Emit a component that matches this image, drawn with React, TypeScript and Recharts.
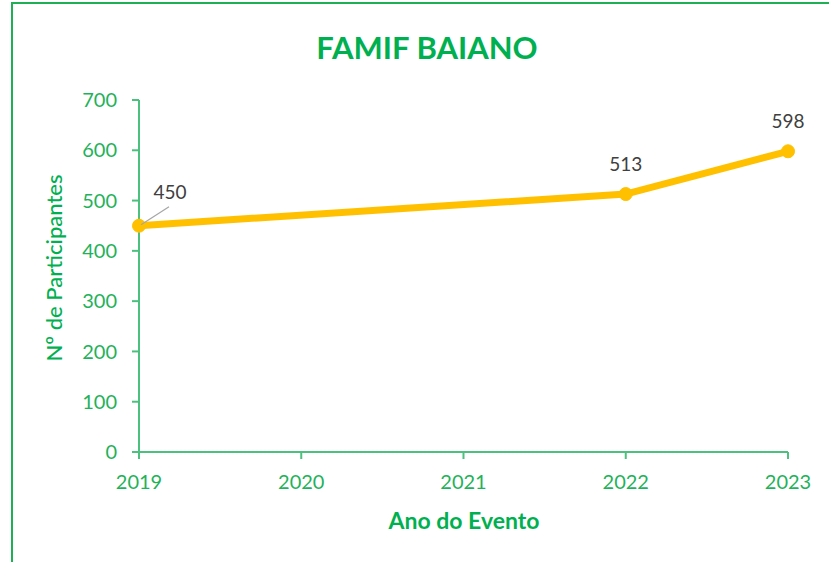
import React from "react";
import { LineChart, Line, XAxis, YAxis, LabelList } from "recharts";

const years = ["2019", "2020", "2021", "2022", "2023"];
const participants: (number | null)[] = [450, null, null, 513, 598];
const yTicks = [0, 100, 200, 300, 400, 500, 600, 700];

const data = years.map((ano, i) => ({ ano, valor: participants[i] }));

const FONT = "Lato, 'Open Sans', sans-serif";
const GREEN = "#00B050";
const TICK_GREEN = "#1FB25A";
const AXIS_GREEN = "#4CC17F";
const GOLD = "#FFC000";

// Excel-style data label; the first one was dragged aside and gets a leader line
function PointLabel(props: any) {
  const { x, y, value, index } = props;
  if (value == null || x == null || y == null) return null;
  if (index === 0) {
    return (
      <g>
        <line x1={x + 2} y1={y - 1} x2={x + 30} y2={y - 19} stroke="#A6A6A6" strokeWidth={1.2} />
        <text x={x + 31} y={y - 34} textAnchor="middle" dominantBaseline="central" fill="#404040" fontSize={19} fontFamily={FONT}>
          {value}
        </text>
      </g>
    );
  }
  return (
    <text x={x} y={y - 31} textAnchor="middle" dominantBaseline="central" fill="#404040" fontSize={19} fontFamily={FONT}>
      {value}
    </text>
  );
}

export default function App() {
  return (
    <div style={{ position: "fixed", left: 0, top: 0, width: 829, height: 562, overflow: "hidden", background: "#fff" }}>
      <div
        style={{
          position: "absolute",
          left: 11,
          top: 2,
          width: 840,
          height: 600,
          border: "2px solid #1FAF55",
          boxSizing: "border-box",
        }}
      />
      <div
        style={{
          position: "absolute",
          left: 0,
          width: 854,
          top: 28,
          textAlign: "center",
          fontFamily: FONT,
          fontWeight: 700,
          fontSize: 31,
          color: GREEN,
        }}
      >
        FAMIF BAIANO
      </div>
      <div
        style={{
          position: "absolute",
          left: 53,
          top: 268,
          transform: "translate(-50%, -50%) rotate(-90deg)",
          whiteSpace: "nowrap",
          fontFamily: FONT,
          fontSize: 22,
          fontWeight: 500,
          color: GREEN,
        }}
      >
        Nº de Participantes
      </div>
      <div
        style={{
          position: "absolute",
          left: 464,
          top: 520,
          transform: "translate(-50%, -50%)",
          whiteSpace: "nowrap",
          fontFamily: FONT,
          fontSize: 23,
          fontWeight: 700,
          color: GREEN,
        }}
      >
        Ano do Evento
      </div>
      <div style={{ position: "absolute", left: 0, top: 0 }}>
        <LineChart width={829} height={562} data={data} margin={{ top: 100, right: 41, bottom: 70, left: 79 }}>
          <XAxis
            dataKey="ano"
            height={40}
            tick={{ fontSize: 20, fill: TICK_GREEN, fontFamily: FONT }}
            tickSize={7}
            tickMargin={16}
            axisLine={{ stroke: AXIS_GREEN, strokeWidth: 2 }}
            tickLine={{ stroke: AXIS_GREEN, strokeWidth: 2 }}
            interval={0}
          />
          <YAxis
            width={60}
            domain={[0, 700]}
            ticks={yTicks}
            tick={{ fontSize: 20, fill: TICK_GREEN, fontFamily: FONT }}
            tickSize={7}
            tickMargin={15}
            axisLine={{ stroke: AXIS_GREEN, strokeWidth: 2 }}
            tickLine={{ stroke: AXIS_GREEN, strokeWidth: 2 }}
            interval={0}
          />
          <Line
            type="linear"
            dataKey="valor"
            stroke={GOLD}
            strokeWidth={7}
            connectNulls
            dot={{ r: 6.5, fill: GOLD, stroke: GOLD, strokeWidth: 1 }}
            activeDot={false}
            isAnimationActive={false}
          >
            <LabelList dataKey="valor" content={PointLabel} />
          </Line>
        </LineChart>
      </div>
    </div>
  );
}
